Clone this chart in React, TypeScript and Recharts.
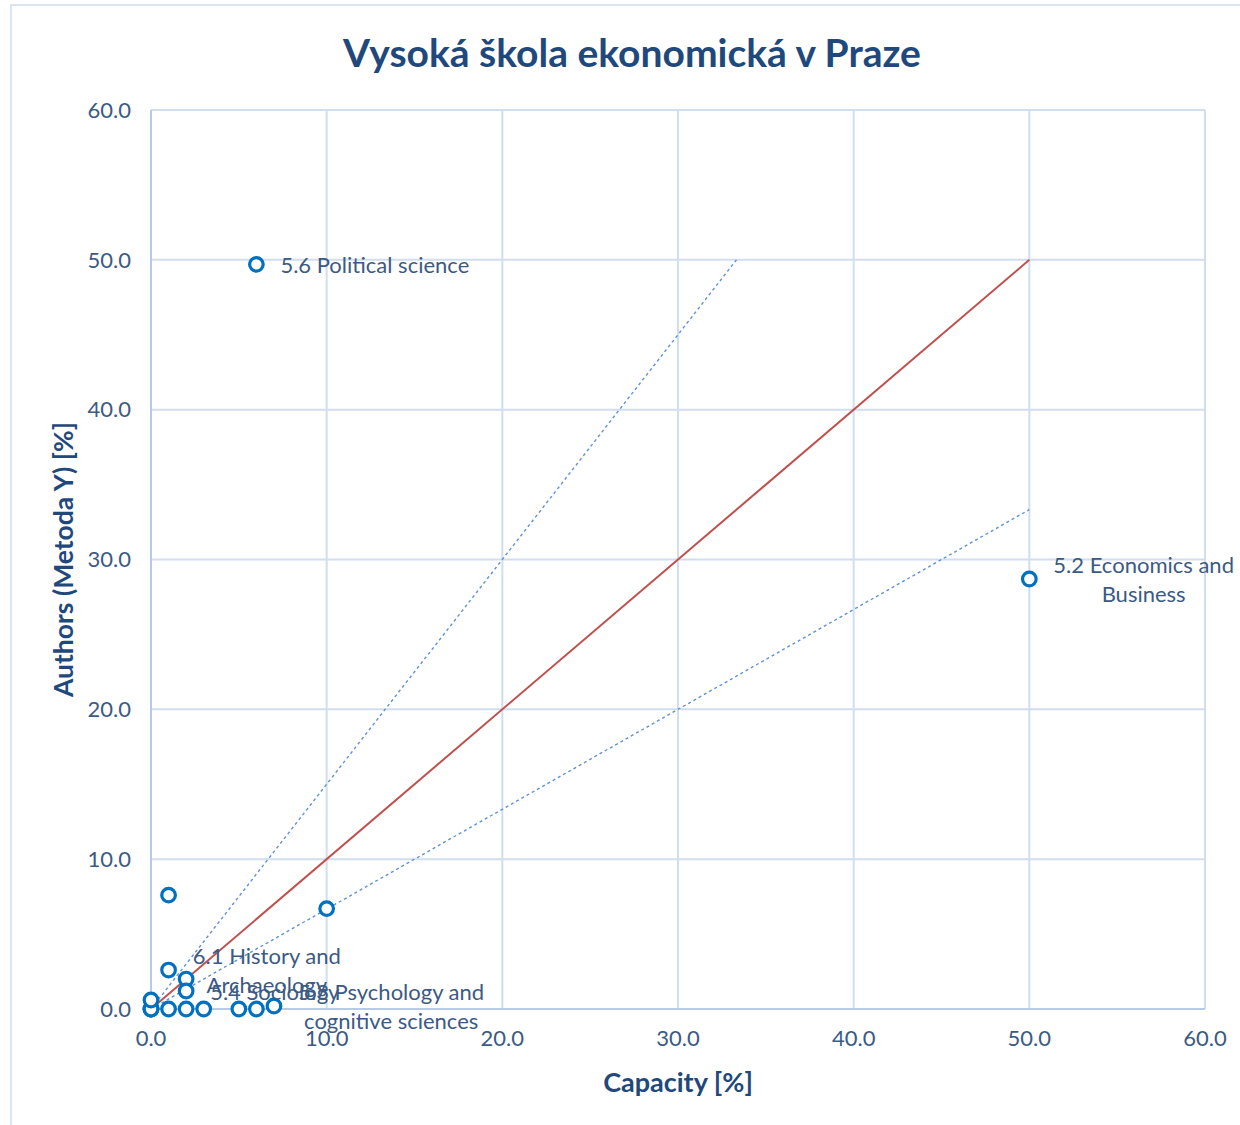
import React from 'react';
import { ScatterChart, Scatter, XAxis, YAxis, CartesianGrid } from 'recharts';

const TITLE = 'Vysoká škola ekonomická v Praze';
const X_LABEL = 'Capacity [%]';
const Y_LABEL = 'Authors (Metoda Y) [%]';

const xTicks = [0, 10, 20, 30, 40, 50, 60];
const yTicks = [0, 10, 20, 30, 40, 50, 60];

// field points: capacity (x) vs authors (y)
const fieldX = [0, 0, 0, 1, 2, 3, 5, 6, 0, 1, 2, 2, 1, 10, 7, 6, 50];
const fieldY = [0, 0, 0, 0, 0, 0, 0, 0, 0.6, 2.6, 2.0, 1.2, 7.6, 6.7, 0.2, 49.7, 28.7];
const fieldLabels = ['', '', '', '', '', '', '', '', '', '6.1 History and\nArchaeology', '', '5.4 Sociology', '', '', '5.3 Psychology and\ncognitive sciences', '5.6 Political science', '5.2 Economics and\nBusiness'];

const diagonal = [{ x: 0, y: 0 }, { x: 50, y: 50 }];
const upperBound = [{ x: 0, y: 0 }, { x: 33.33, y: 50 }];
const lowerBound = [{ x: 0, y: 0 }, { x: 50, y: 33.33 }];

const points = fieldX.map((x, i) => ({ x, y: fieldY[i], label: fieldLabels[i] }));
const labelled = points.filter((p) => p.label);

const FONT = 'Lato, "Open Sans", sans-serif';
const TEXT_COLOR = '#3b5a84';
const TITLE_COLOR = '#1f497d';
const GRID = '#d0deef';
const LABEL_SIZE = 22;

let ctx: CanvasRenderingContext2D | null = null;
function measure(t: string): number {
  if (!ctx) {
    const c = document.createElement('canvas');
    ctx = c.getContext('2d');
  }
  if (!ctx) return t.length * 10;
  ctx.font = `${LABEL_SIZE}px Lato`;
  return ctx.measureText(t).width;
}

const Marker = (props: any) => {
  const { cx, cy } = props;
  if (cx == null || cy == null) return <g />;
  return <circle cx={cx} cy={cy} r={6.8} fill="#ffffff" stroke="#0070c0" strokeWidth={3.2} />;
};

const LabelShape = (props: any) => {
  const { cx, cy, payload } = props;
  if (cx == null || cy == null || !payload) return <g />;
  const lines: string[] = String(payload.label).split('\n');
  const maxW = Math.max(...lines.map(measure));
  const left = cx + 24;
  const mid = left + maxW / 2;
  const lh = 29.5;
  return (
    <g>
      {lines.map((l, i) => (
        <text
          key={i}
          x={mid}
          y={cy + (i - (lines.length - 1) / 2) * lh}
          textAnchor="middle"
          dominantBaseline="central"
          fontFamily={FONT}
          fontSize={LABEL_SIZE}
          fill={TEXT_COLOR}
        >
          {l}
        </text>
      ))}
    </g>
  );
};

const Nothing = () => <g />;

const fmt = (v: number) => v.toFixed(1);

export default function App() {
  return (
    <div style={{ position: 'absolute', left: 0, top: 0, width: 1240, height: 1125, background: '#fff', overflow: 'hidden' }}>
      <div
        style={{
          position: 'absolute',
          left: 10,
          top: 4,
          width: 1260,
          height: 1140,
          border: '2px solid #dbe5f1',
          boxSizing: 'border-box',
        }}
      />
      <div
        style={{
          position: 'absolute',
          left: 0,
          top: 28,
          width: 1264,
          textAlign: 'center',
          fontFamily: FONT,
          fontWeight: 700,
          fontSize: 39,
          color: TITLE_COLOR,
          lineHeight: '48px',
        }}
      >
        {TITLE}
      </div>
      <div style={{ position: 'absolute', left: 0, top: 0 }}>
        <ScatterChart width={1240} height={1125} margin={{ top: 110, right: 35, bottom: 0, left: 0 }}>
          <CartesianGrid stroke={GRID} strokeWidth={2} />
          <XAxis
            type="number"
            dataKey="x"
            domain={[0, 60]}
            ticks={xTicks}
            tickFormatter={fmt}
            height={116}
            axisLine={{ stroke: '#b7cbe6', strokeWidth: 2 }}
            tickLine={false}
            tickSize={8}
            tickMargin={13}
            tick={{ fill: TEXT_COLOR, fontSize: 22, fontFamily: FONT }}
            label={{
              content: (p: any) => {
                const vb = p.viewBox || { x: 151, y: 1009, width: 1054, height: 116 };
                return (
                  <text
                    x={vb.x + vb.width / 2}
                    y={1081}
                    textAnchor="middle"
                    dominantBaseline="central"
                    fontFamily={FONT}
                    fontWeight={700}
                    fontSize={27}
                    fill={TITLE_COLOR}
                  >
                    {X_LABEL}
                  </text>
                );
              },
            }}
          />
          <YAxis
            type="number"
            dataKey="y"
            domain={[0, 60]}
            ticks={yTicks}
            tickFormatter={fmt}
            width={151}
            axisLine={{ stroke: '#b7cbe6', strokeWidth: 2 }}
            tickLine={false}
            tickSize={8}
            tickMargin={12}
            tick={{ fill: TEXT_COLOR, fontSize: 22, fontFamily: FONT }}
            label={{
              content: (p: any) => {
                const vb = p.viewBox || { x: 0, y: 110, width: 151, height: 899 };
                const cy = vb.y + vb.height / 2;
                return (
                  <text
                    x={63}
                    y={cy}
                    transform={`rotate(-90, 63, ${cy})`}
                    textAnchor="middle"
                    dominantBaseline="central"
                    fontFamily={FONT}
                    fontWeight={700}
                    fontSize={26.5}
                    fill={TITLE_COLOR}
                  >
                    {Y_LABEL}
                  </text>
                );
              },
            }}
          />
          <Scatter data={upperBound} line={{ stroke: '#5f92d6', strokeWidth: 1.4, strokeDasharray: '3 3' }} shape={Nothing} isAnimationActive={false} legendType="none" />
          <Scatter data={lowerBound} line={{ stroke: '#5f92d6', strokeWidth: 1.4, strokeDasharray: '3 3' }} shape={Nothing} isAnimationActive={false} legendType="none" />
          <Scatter data={diagonal} line={{ stroke: '#c0504d', strokeWidth: 2 }} shape={Nothing} isAnimationActive={false} legendType="none" />
          <Scatter data={points} shape={Marker} isAnimationActive={false} />
          <Scatter data={labelled} shape={LabelShape} isAnimationActive={false} legendType="none" />
        </ScatterChart>
      </div>
    </div>
  );
}
